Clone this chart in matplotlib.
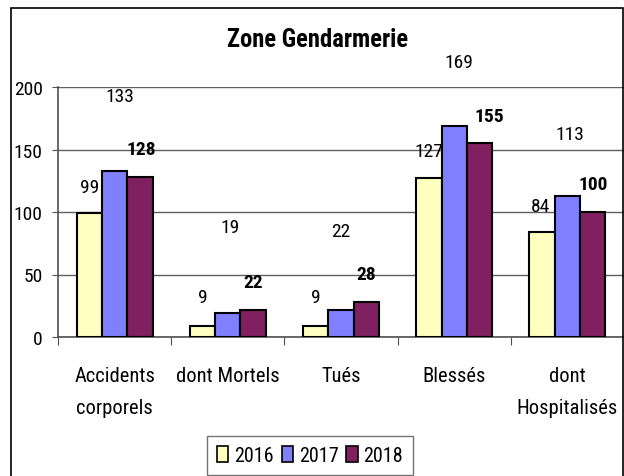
import matplotlib.pyplot as plt
import numpy as np
from matplotlib.patches import Rectangle

categories = ['Accidents\ncorporels', 'dont Mortels', 'Tués', 'Blessés', 'dont\nHospitalisés']
years = ['2016', '2017', '2018']
v2016 = [99, 9, 9, 127, 84]
v2017 = [133, 19, 22, 169, 113]
v2018 = [128, 22, 28, 155, 100]
yticks = [0, 50, 100, 150, 200]

colors = ['#FFFFC0', '#8080FF', '#802060']
# label offsets (pixels) from the top of each bar
off_2016 = [(0, 26), (0, 29), (0, 29), (0, 27), (-2, 26)]
off_2017 = [(5, 75), (2, 86), (0, 78), (5, 64), (2, 62)]
off_2018 = [(1, 28), (0, 28), (0, 28), (10, 27), (0, 28)]

plt.rcParams['font.family'] = ['Roboto Condensed', 'Liberation Sans', 'DejaVu Sans']

W, H = 624, 477
fig = plt.figure(figsize=(W / 100, H / 100), dpi=100)
ax = fig.add_axes([58 / W, 1 - 338 / H, 566 / W, 250 / H])

x = np.arange(len(categories)) + 0.5
w = 0.224
series = [v2016, v2017, v2018]
offsets = [off_2016, off_2017, off_2018]
weights = ['normal', 'normal', 'bold']
for i, (vals, col) in enumerate(zip(series, colors)):
    xs = x + (i - 1) * w
    ax.bar(xs, vals, width=w, color=col, edgecolor='black', linewidth=1.5,
           label=years[i], zorder=3)
    for xi, v, (dx, dy) in zip(xs, vals, offsets[i]):
        ax.annotate(str(v), xy=(xi, v), xytext=(dx, dy), textcoords='offset pixels',
                    ha='center', va='center', fontsize=14, fontweight=weights[i],
                    annotation_clip=False)

ax.set_xlim(0, 5)
ax.set_ylim(0, 200)
ax.set_yticks(yticks)
ax.set_yticklabels([str(t) for t in yticks], fontsize=14)
ax.tick_params(axis='y', length=4, pad=7, color='#505050')

ax.set_xticks(np.arange(0, 6))
ax.set_xticklabels([])
ax.tick_params(axis='x', which='major', length=6, color='#505050', direction='out')
ax.set_xticks(x, minor=True)
ax.set_xticklabels(categories, minor=True, fontsize=14.8, linespacing=1.85, va='top')
ax.tick_params(axis='x', which='minor', length=0, pad=21)

ax.yaxis.grid(True, color='#606060', linewidth=1)
ax.set_axisbelow(True)
for s in ['top', 'right']:
    ax.spines[s].set_visible(False)
for s in ['left', 'bottom']:
    ax.spines[s].set_color('#505050')
    ax.spines[s].set_linewidth(1.2)

fig.text(318 / W, 1 - 40 / H, 'Zone Gendarmerie', ha='center', va='center',
         fontsize=17.7, fontweight='bold')

leg = fig.legend(loc='upper center', bbox_to_anchor=(310 / W, 1 - 437 / H), ncol=3,
                 fontsize=14.5, frameon=True, fancybox=False, handlelength=0.55,
                 handleheight=0.8, handletextpad=0.3, columnspacing=0.4,
                 borderpad=0.5, borderaxespad=0)
leg.get_frame().set_edgecolor('#505050')
leg.get_frame().set_linewidth(1)
for h in leg.legend_handles:
    h.set_linewidth(1.2)

fig.patches.append(Rectangle((11 / W, -0.1), (612 / W), 1.1 - 9 / H,
                             transform=fig.transFigure, fill=False,
                             edgecolor='black', linewidth=1.2))

fig.savefig('out.png', dpi=100)
